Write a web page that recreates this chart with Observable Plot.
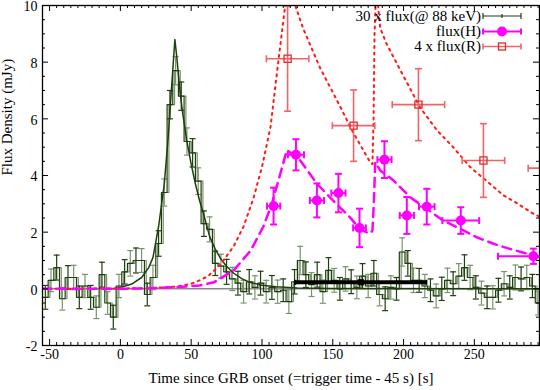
<!DOCTYPE html>
<html><head><meta charset="utf-8">
<script src="https://cdn.jsdelivr.net/npm/d3@7"></script>
<script src="https://cdn.jsdelivr.net/npm/@observablehq/plot@0.6"></script>
<style>
body{margin:0;background:#fff;}
#chart{width:540px;height:390px;}
</style></head><body><div id="chart"></div>
<script>
// ---------- data ----------
const batStart = -55, batWidth = 4;
const batFlux = [-0.3,0.3,0.75,-0.35,0.4,0.4,-0.3,0.1,-0.3,-0.65,0.5,-0.5,-1.0,0.1,0.6,0.9,1.0,1.0,-0.2,0.4,
  1.6,3.4,6.5,7.7,6.8,5.2,4.8,3.8,2.3,2.1,0.9,0.8,0.6,0.35,0.2,-0.1,0.25,0.05,0.2,-0.1,
  0.05,-0.1,-0.05,-0.45,0.25,1.0,0.5,0.15,0.5,-0.1,0.65,0.3,0.0,0.35,0.25,0.05,0.45,0.1,0.55,-0.2,
  -0.35,0.05,0.0,1.3,0.9,0.3,0.3,0.1,-0.05,-0.25,0.0,0.3,0.18,0.45,0.75,0.4,0.05,-0.15,-0.3,-0.3,
  -0.05,0.18,0.05,0.4,0.35,0.4,0.1,-0.5];
const batErr = [0.42,0.4,0.44,0.4,0.42,0.43,0.4,0.41,0.42,0.4,0.44,0.4,0.42,0.41,0.43,0.45,0.44,0.42,0.4,0.43,
  0.45,0.48,0.5,0.5,0.5,0.48,0.5,0.47,0.45,0.44,0.43,0.42,0.44,0.41,0.42,0.4,0.43,0.41,0.42,0.4,
  0.42,0.41,0.4,0.42,0.43,0.5,0.45,0.42,0.44,0.41,0.45,0.42,0.4,0.43,0.42,0.4,0.44,0.41,0.45,0.4,
  0.42,0.41,0.4,0.5,0.45,0.43,0.42,0.41,0.4,0.42,0.41,0.43,0.42,0.44,0.45,0.43,0.41,0.42,0.4,0.41,
  0.42,0.43,0.41,0.44,0.42,0.43,0.41,0.42];

const fitT = [-5,0,8,15,20,23,27,31,34,36,38.5,40,42,44,47,50,53,56,59,63,67,71,75,80,86,92,100,110,125,150,296];
const fitV = [0,0.05,0.17,0.4,0.75,1.1,2.2,3.7,5.5,7.0,8.8,8.1,7.0,6.2,5.2,4.4,3.7,3.1,2.6,1.85,1.4,1.05,0.8,0.55,0.35,0.22,0.13,0.07,0.03,0.01,0];

const rModelT = [-55,20,40,50,56,62,70.6,80,87,94,100,106,111,116.4,118,120,122,123.5,129,141,153,164.6,176.4,178,178.8,179.5,180.5,182,183.5,188,200,211.7,223.5,235,247,258.8,270.5,277.5,291.7,296];
const rModelV = [0,0.02,0.08,0.18,0.3,0.45,0.85,1.5,2.2,3.2,4.3,5.7,7.8,10.0,10.8,11.0,10.6,10.0,9.2,7.8,6.65,5.5,4.47,4.4,6.0,9.0,10.4,10.0,9.2,8.65,7.5,6.4,5.6,5.0,4.3,3.8,3.3,3.1,2.65,2.55];

const hModelT = [-55,0,20,40,56,66,80,92,101,107,113,117.6,127,139,150.5,162,169.4,176,178,179,180,183.5,193,204.7,216.4,228,240,251.7,263.5,275,291.5,296];
const hModelV = [0,0,0.02,0.06,0.12,0.23,0.65,1.35,2.2,3.0,4.07,4.9,4.53,3.7,3.1,2.53,2.1,1.95,2.05,3.0,4.47,4.18,3.82,3.23,2.82,2.41,2.12,1.82,1.59,1.41,1.18,1.13];

const hT    = [108.2,124,138.8,154,168.9,186.5,202.3,216.4,240.4,291.7];
const hV    = [2.92,4.73,3.12,3.38,2.15,4.56,2.59,2.9,2.41,1.15];
const hTerr = [4.7,5.7,5,5,4.5,5,5,5.5,13,25];
const hVerr = [0.65,0.55,0.6,0.68,0.68,0.65,0.65,0.63,0.47,0.27];

const rT    = [118.1,164.7,210.5,256.4,305];
const rV    = [8.12,5.76,6.5,4.53,4.26];
const rTerr = [15,15,18.5,15,17];
const rVerr = [1.85,1.26,1.27,1.3,1.3];

const barT = [169.8], barTerr = [46.3], barV = [0.23];

const xMajor = [-50,0,50,100,150,200,250];
const yMajor = [-2,0,2,4,6,8,10];
const xTitle = "Time since GRB onset (=trigger time - 45 s) [s]";
const yTitle = "Flux Density (mJy)";
const legendLabels = ["30 x flux(@ 88 keV)", "flux(H)", "4 x flux(R)"];

// ---------- styling ----------
const FONT = "'Liberation Serif', 'DejaVu Serif', serif";
const W = 540, H = 390, mL = 42, mR = 1, mT = 5, mB = 45;
const innerW = W - mL - mR, innerH = H - mT - mB;
const darkG = "#1f3f0e", lightG = "#7a9470";
const magenta = "#ff00ff", redLine = "#ff1a1a", salmon = "#f26464", redSq = "#e02a2a";

const hCap = {draw(ctx, size){ const r = Math.sqrt(size/Math.PI); ctx.moveTo(-r,0); ctx.lineTo(r,0); }};
const vCap = {draw(ctx, size){ const r = Math.sqrt(size/Math.PI); ctx.moveTo(0,-r); ctx.lineTo(0,r); }};

// ---------- derived tables ----------
const bins = batFlux.map((v,i)=>({t0: batStart+i*batWidth, t1: batStart+(i+1)*batWidth, tc: batStart+(i+0.5)*batWidth, v, e: batErr[i], i}));
const stepPts = bins.flatMap(b=>[{t:b.t0,v:b.v},{t:b.t1,v:b.v}]);
const batCaps = bins.flatMap(b=>[{t:b.tc,y:b.v-b.e,i:b.i},{t:b.tc,y:b.v+b.e,i:b.i}]);
const fit = fitT.map((t,i)=>({t, v: fitV[i]}));
const rModel = rModelT.map((t,i)=>({t, v: rModelV[i]}));
const hModel = hModelT.map((t,i)=>({t, v: hModelV[i]}));
const hPts = hT.map((t,i)=>({t, v: hV[i], et: hTerr[i], ev: hVerr[i]}));
const rPts = rT.map((t,i)=>({t, v: rV[i], et: rTerr[i], ev: rVerr[i]}));
const bar = barT.map((t,i)=>({t, v: barV[i], et: barTerr[i]}));
const vCapsOf = pts => pts.flatMap(p=>[{t:p.t, y:p.v-p.ev},{t:p.t, y:p.v+p.ev}]);
const hCapsOf = pts => pts.flatMap(p=>[{t:p.t-p.et, y:p.v},{t:p.t+p.et, y:p.v}]);

const xMinor = d3.range(-55, 296, 5).filter(v=>!xMajor.includes(v));
const yMinor = d3.range(-2, 10.01, 0.5).filter(v=>!yMajor.includes(v));

const plot = Plot.plot({
  width: W, height: H, marginLeft: mL, marginRight: mR, marginTop: mT, marginBottom: mB,
  style: {fontFamily: FONT, fontSize: "15px", background: "white", color: "black"},
  x: {domain: [-55, 296], axis: null},
  y: {domain: [-2, 10], axis: null},
  color: {type: "identity"},
  marks: [
    Plot.ruleY([0], {stroke: "#505050", strokeWidth: 1}),
    // BAT light curve
    Plot.line(stepPts, {x:"t", y:"v", stroke: lightG, strokeWidth: 1.2, dx: 1.8, clip: true}),
    Plot.ruleX(bins, {x:"tc", y1: d=>d.v-d.e, y2: d=>d.v+d.e, stroke: d=>d.i%2 ? lightG : darkG, strokeWidth: 1.2, clip: true}),
    Plot.dot(batCaps, {x:"t", y:"y", symbol: hCap, r: 3, fill: "none", stroke: d=>d.i%2 ? lightG : darkG, strokeWidth: 1.2, clip: true}),
    Plot.line(stepPts, {x:"t", y:"v", stroke: darkG, strokeWidth: 1.2, clip: true}),
    Plot.line(fit, {x:"t", y:"v", stroke: darkG, strokeWidth: 1.5, clip: true}),
    // black integrated bar
    Plot.link(bar, {x1: d=>d.t-d.et, x2: d=>d.t+d.et, y1:"v", y2:"v", stroke: "black", strokeWidth: 4}),
    Plot.dot(hCapsOf(bar), {x:"t", y:"y", symbol: vCap, r: 2.5, fill:"none", stroke:"black", strokeWidth: 2}),
    Plot.dot(bar, {x:"t", y:"v", symbol:"square", r: 3.5, fill:"black"}),
    // models
    Plot.line(rModel, {x:"t", y:"v", stroke: redLine, strokeWidth: 2, strokeDasharray: "2,4.5", clip: true}),
    Plot.line(hModel, {x:"t", y:"v", stroke: magenta, strokeWidth: 2.5, strokeDasharray: "9,6", clip: true}),
    // R points
    Plot.link(rPts, {x1: d=>d.t-d.et, x2: d=>d.t+d.et, y1:"v", y2:"v", stroke: salmon, strokeWidth: 1.6, clip: true}),
    Plot.link(rPts, {x1:"t", x2:"t", y1: d=>d.v-d.ev, y2: d=>d.v+d.ev, stroke: salmon, strokeWidth: 1.6, clip: true}),
    Plot.dot(vCapsOf(rPts), {x:"t", y:"y", symbol: hCap, r: 3.5, fill:"none", stroke: salmon, strokeWidth: 1.6, clip: true}),
    Plot.dot(hCapsOf(rPts), {x:"t", y:"y", symbol: vCap, r: 3.5, fill:"none", stroke: salmon, strokeWidth: 1.6, clip: true}),
    Plot.dot(rPts, {x:"t", y:"v", symbol:"square", r: 4, fill:"none", stroke: redSq, strokeWidth: 1.3, clip: true}),
    // H points
    Plot.link(hPts, {x1: d=>d.t-d.et, x2: d=>d.t+d.et, y1:"v", y2:"v", stroke: magenta, strokeWidth: 2, clip: true}),
    Plot.link(hPts, {x1:"t", x2:"t", y1: d=>d.v-d.ev, y2: d=>d.v+d.ev, stroke: magenta, strokeWidth: 2, clip: true}),
    Plot.dot(vCapsOf(hPts), {x:"t", y:"y", symbol: hCap, r: 3.5, fill:"none", stroke: magenta, strokeWidth: 2, clip: true}),
    Plot.dot(hCapsOf(hPts), {x:"t", y:"y", symbol: vCap, r: 3.5, fill:"none", stroke: magenta, strokeWidth: 2, clip: true}),
    Plot.dot(hPts, {x:"t", y:"v", r: 5, fill: magenta, clip: true}),
    // frame and ticks (inward, mirrored)
    Plot.frame({stroke: "black", strokeWidth: 1.3}),
    Plot.tickX(xMajor, {x: d=>d, insetTop: innerH-6, stroke:"black"}),
    Plot.tickX(xMajor, {x: d=>d, insetBottom: innerH-6, stroke:"black"}),
    Plot.tickX(xMinor, {x: d=>d, insetTop: innerH-3, stroke:"black"}),
    Plot.tickX(xMinor, {x: d=>d, insetBottom: innerH-3, stroke:"black"}),
    Plot.tickY(yMajor, {y: d=>d, insetRight: innerW-6, stroke:"black"}),
    Plot.tickY(yMajor, {y: d=>d, insetLeft: innerW-6, stroke:"black"}),
    Plot.tickY(yMinor, {y: d=>d, insetRight: innerW-3, stroke:"black"}),
    Plot.tickY(yMinor, {y: d=>d, insetLeft: innerW-3, stroke:"black"}),
    // tick labels and titles
    Plot.text(xMajor, {x: d=>d, frameAnchor: "bottom", dy: 13, text: d=>String(d), fontSize: 14}),
    Plot.text(yMajor, {y: d=>d, frameAnchor: "left", dx: -5, dy: 1.5, textAnchor: "end", text: d=>String(d), fontSize: 14}),
    Plot.text([xTitle], {frameAnchor: "bottom", dy: 37, text: d=>d, fontSize: 15}),
    Plot.text([yTitle], {frameAnchor: "left", dx: -35, rotate: -90, text: d=>d, fontSize: 15})
  ]
});
document.getElementById("chart").appendChild(plot);

// ---------- legend ----------
const svg = d3.select(plot);
const leg = svg.append("g").attr("font-family", FONT).attr("font-size", 15);
const lx0 = 483, lx1 = 521, lxm = 502, ltext = 481;
const rowsY = [16, 31.5, 46.5];
const rowStyle = [
  {stroke: darkG, w: 1.2},
  {stroke: magenta, w: 2},
  {stroke: salmon, w: 1.6}
];
legendLabels.forEach((lab, k)=>{
  const y = rowsY[k], s = rowStyle[k];
  leg.append("text").attr("x", ltext).attr("y", y).attr("dy", "0.32em").attr("text-anchor","end").attr("fill","black").text(lab);
  leg.append("line").attr("x1", lx0).attr("x2", lx1).attr("y1", y).attr("y2", y).attr("stroke", s.stroke).attr("stroke-width", s.w);
  [lx0, lx1].forEach(x=> leg.append("line").attr("x1", x).attr("x2", x).attr("y1", y-3).attr("y2", y+3).attr("stroke", s.stroke).attr("stroke-width", s.w));
  if (k===0) leg.append("line").attr("x1", lxm).attr("x2", lxm).attr("y1", y-2).attr("y2", y+2).attr("stroke", s.stroke).attr("stroke-width", s.w);
  if (k===1) leg.append("circle").attr("cx", lxm).attr("cy", y).attr("r", 5).attr("fill", magenta);
  if (k===2) leg.append("rect").attr("x", lxm-3.5).attr("y", y-3.5).attr("width", 7).attr("height", 7).attr("fill","none").attr("stroke", redSq).attr("stroke-width", 1.3);
});
</script>
</body></html>
